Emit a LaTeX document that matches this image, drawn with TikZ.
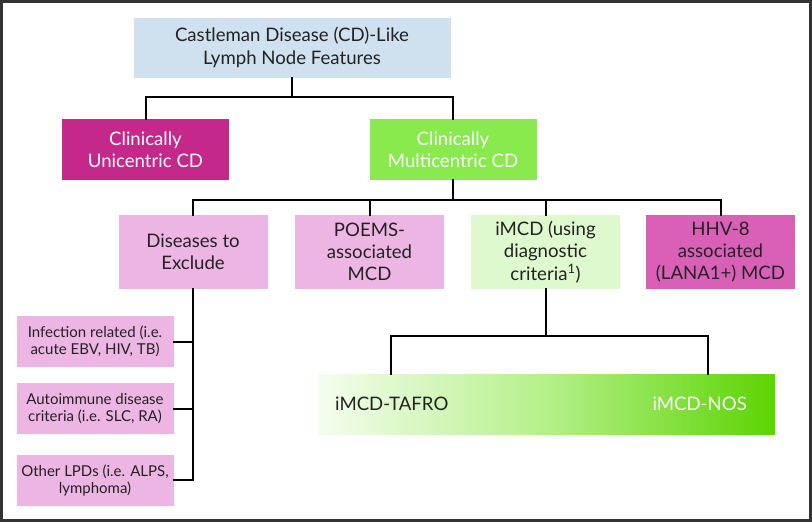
\documentclass[tikz,border=0pt]{standalone}
\usepackage{fontspec}
\setmainfont{Lato}
\definecolor{topblue}{HTML}{CFE0EE}
\definecolor{unimag}{HTML}{C4288A}
\definecolor{multigreen}{HTML}{88EA4C}
\definecolor{pinkbox}{HTML}{EDB5E3}
\definecolor{imcdgreen}{HTML}{DEF9CE}
\definecolor{hhvmag}{HTML}{D960B6}
\definecolor{txt}{HTML}{222222}
\definecolor{framec}{HTML}{333333}
\definecolor{gA}{HTML}{F4FDEE}
\definecolor{gB}{HTML}{B4F08A}
\definecolor{gC}{HTML}{5CD402}
\pgfdeclarehorizontalshading{imcdshade}{100bp}{color(0bp)=(gA); color(25bp)=(gA); color(50bp)=(gB); color(75bp)=(gC); color(100bp)=(gC)}
\begin{document}
\begin{tikzpicture}[x=1pt,y=-1pt,
  box/.style={draw=none,inner sep=0pt,align=center,text=txt,font=\fontsize{18.6}{22.3}\selectfont},
  small/.style={box,minimum width=157pt,minimum height=51pt,fill=pinkbox,font=\fontsize{15}{17}\selectfont},
  lvl/.style={box,minimum width=149pt,minimum height=74pt},
  conn/.style={line width=2pt,draw=black,line cap=rect}]
\useasboundingbox (0,0) rectangle (812,522);
\draw[framec,line width=3pt] (1.5,1.5) rectangle (810.5,520.5);
\node[box,fill=topblue,minimum width=317pt,minimum height=60pt] (top) at (292,47.5) {Castleman Disease (CD)-Like\\Lymph Node Features};
\node[box,fill=unimag,text=white,minimum width=167pt,minimum height=61pt] (uni) at (145.5,149.5) {Clinically\\Unicentric CD};
\node[box,fill=multigreen,text=white,minimum width=167pt,minimum height=61pt] (multi) at (453,149.5) {Clinically\\Multicentric CD};
\node[lvl,fill=pinkbox] (dis) at (193,252) {Diseases to\\Exclude};
\node[lvl,fill=pinkbox] (poems) at (369.5,252) {POEMS-\\associated\\MCD};
\node[lvl,fill=imcdgreen] (imcd) at (545.5,252) {iMCD (using\\diagnostic\\criteria\textsuperscript{1})};
\node[lvl,fill=hhvmag] (hhv) at (720.5,252) {HHV-8\\associated\\(LANA1+) MCD};
\node[small] (inf) at (95,341.5) {Infection related (i.e.\\acute EBV, HIV, TB)};
\node[small] (auto) at (95,408.5) {Autoimmune disease\\criteria (i.e. SLC, RA)};
\node[small] (other) at (95,480) {Other LPDs (i.e. ALPS,\\lymphoma)};
\node[box,shading=imcdshade,minimum width=457pt,minimum height=60pt] (grad) at (546.5,404) {};
\node[box,anchor=west] (tafro) at (335,404) {iMCD-TAFRO};
\node[box,anchor=east,text=white] (nos) at (747,404) {iMCD-NOS};
\coordinate (h1) at (0,97);
\coordinate (h2) at (0,200);
\coordinate (h3) at (0,336);
\coordinate (t1) at (391,0);
\coordinate (t2) at (708,0);
\draw[conn] (top.south) -- (top.south|-h1);
\draw[conn] (uni.north) -- (uni.north|-h1) -- (multi.north|-h1) -- (multi.north);
\draw[conn] (multi.south) -- (multi.south|-h2);
\draw[conn] (dis.north) -- (dis.north|-h2) -- (hhv.north|-h2) -- (hhv.north);
\draw[conn] (poems.north) -- (poems.north|-h2);
\draw[conn] (imcd.north) -- (imcd.north|-h2);
\draw[conn] (dis.south) -- (dis.south|-other.east) -- (other.east);
\draw[conn] (inf.east) -- (dis.south|-inf.east);
\draw[conn] (auto.east) -- (dis.south|-auto.east);
\draw[conn] (imcd.south) -- (imcd.south|-h3);
\draw[conn] (t1|-grad.north) -- (t1|-h3) -- (t2|-h3) -- (t2|-grad.north);
\end{tikzpicture}
\end{document}
